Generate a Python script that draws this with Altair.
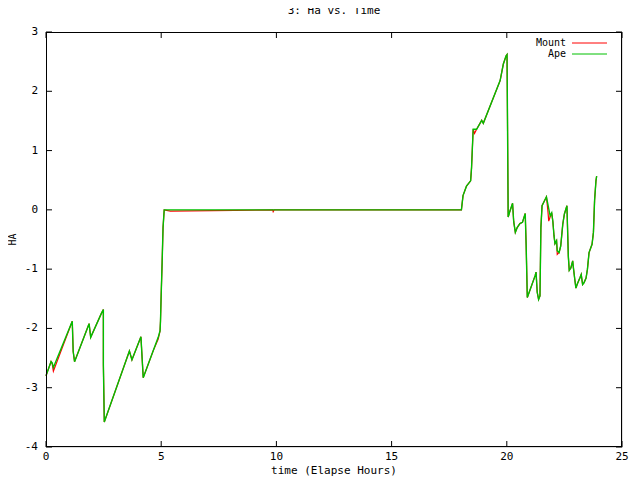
import altair as alt
import pandas as pd

# ---- data ----
ape_time = [0.0, 0.22, 0.27, 0.32, 1.14, 1.18, 1.24, 1.87, 1.94, 2.40, 2.49, 2.49, 2.53,
            3.62, 3.73, 4.12, 4.22, 4.66, 4.87, 4.95, 4.97, 5.00, 5.04, 5.08, 5.13,
            9.84, 9.86, 9.90, 18.03, 18.10, 18.25, 18.43, 18.47, 18.54, 18.69, 18.91, 18.98,
            19.71, 19.85, 19.97, 20.01, 20.06, 20.12, 20.25, 20.30, 20.37, 20.45, 20.57,
            20.68, 20.80, 20.84, 20.89, 21.23, 21.27, 21.32, 21.38, 21.44, 21.48, 21.53,
            21.63, 21.72, 21.78, 21.88, 21.95, 22.00, 22.05, 22.09, 22.16, 22.19, 22.27,
            22.34, 22.43, 22.50, 22.61, 22.67, 22.71, 22.78, 22.86, 22.88, 22.95, 23.00,
            23.06, 23.18, 23.23, 23.29, 23.35, 23.44, 23.50, 23.57, 23.70, 23.76, 23.81,
            23.87, 23.90]
ape_ha = [-2.80, -2.56, -2.58, -2.66, -1.88, -2.39, -2.56, -1.92, -2.15, -1.75, -1.68, -2.61, -3.58,
          -2.38, -2.53, -2.14, -2.83, -2.37, -2.15, -2.04, -1.87, -1.42, -0.89, -0.30, 0.0,
          0.0, 0.0, 0.0, 0.0, 0.24, 0.40, 0.49, 0.71, 1.36, 1.36, 1.51, 1.46,
          2.18, 2.46, 2.60, 2.62, -0.12, -0.04, 0.11, -0.20, -0.38, -0.30, -0.23,
          -0.21, -0.06, -0.60, -1.48, -1.11, -1.05, -1.39, -1.51, -1.45, -0.30, 0.07,
          0.15, 0.22, 0.10, -0.10, -0.05, -0.20, -0.44, -0.57, -0.52, -0.69, -0.72,
          -0.61, -0.24, -0.07, 0.07, -0.78, -1.02, -0.98, -0.86, -0.94, -1.17, -1.32,
          -1.25, -1.14, -1.09, -1.26, -1.23, -1.15, -1.00, -0.72, -0.58, -0.38, 0.16,
          0.49, 0.57]

mount_time = [0.0, 0.22, 0.27, 0.32, 1.14, 1.18, 1.24, 1.87, 1.94, 2.40, 2.49, 2.49, 2.53,
              3.62, 3.73, 4.12, 4.22, 4.66, 4.87, 4.95, 4.97, 5.00, 5.04, 5.08, 5.13, 5.40,
              9.84, 9.86, 9.90, 18.03, 18.10, 18.25, 18.43, 18.47, 18.54, 18.60, 18.69, 18.91, 18.98,
              19.71, 19.85, 19.97, 20.01, 20.06, 20.12, 20.25, 20.30, 20.37, 20.45, 20.57,
              20.68, 20.80, 20.84, 20.89, 21.23, 21.27, 21.32, 21.38, 21.44, 21.48, 21.53,
              21.63, 21.72, 21.78, 21.82, 21.88, 21.95, 22.00, 22.05, 22.09, 22.16, 22.19, 22.27,
              22.34, 22.43, 22.50, 22.61, 22.67, 22.71, 22.78, 22.86, 22.88, 22.95, 23.00,
              23.06, 23.18, 23.23, 23.29, 23.35, 23.44, 23.50, 23.57, 23.70, 23.76, 23.81,
              23.87, 23.90]
mount_ha = [-2.80, -2.56, -2.60, -2.72, -1.88, -2.39, -2.56, -1.92, -2.15, -1.75, -1.68, -2.61, -3.58,
            -2.38, -2.53, -2.14, -2.83, -2.37, -2.18, -2.04, -1.87, -1.42, -0.89, -0.30, 0.0, -0.02,
            0.0, -0.03, 0.0, 0.0, 0.24, 0.40, 0.49, 0.71, 1.36, 1.29, 1.36, 1.51, 1.46,
            2.18, 2.46, 2.60, 2.62, -0.12, -0.04, 0.11, -0.20, -0.38, -0.30, -0.23,
            -0.21, -0.06, -0.60, -1.48, -1.11, -1.05, -1.39, -1.51, -1.45, -0.30, 0.07,
            0.15, 0.22, 0.0, -0.19, -0.12, -0.05, -0.20, -0.44, -0.57, -0.52, -0.75, -0.72,
            -0.61, -0.24, -0.07, 0.07, -0.78, -1.02, -0.98, -0.86, -0.94, -1.17, -1.32,
            -1.25, -1.14, -1.09, -1.26, -1.23, -1.15, -1.00, -0.72, -0.58, -0.38, 0.16,
            0.49, 0.57]

series_names = ["Mount", "Ape"]
series_colors = ["#ff0000", "#00c000"]
x_ticks = [0, 5, 10, 15, 20, 25]
y_ticks = [-4, -3, -2, -1, 0, 1, 2, 3]

ape_df = pd.DataFrame({"time": ape_time, "ha": ape_ha, "i": list(range(len(ape_time))), "series": "Ape"})
mount_df = pd.DataFrame({"time": mount_time, "ha": mount_ha, "i": list(range(len(mount_time))), "series": "Mount"})

W, H = 576, 415
FONT = "DejaVu Sans Mono"

xs = alt.Scale(domain=[0, 25], nice=False, zero=False)
ys = alt.Scale(domain=[-4, 3], nice=False, zero=False)
color_scale = alt.Scale(domain=series_names, range=series_colors)


def line_layer(df, width):
    return alt.Chart(df).mark_line(strokeWidth=width).encode(
        x=alt.X("time:Q", scale=xs, axis=None),
        y=alt.Y("ha:Q", scale=ys, axis=None),
        color=alt.Color("series:N", scale=color_scale, legend=None),
        order="i:Q",
    )


mount_line = line_layer(mount_df, 1.2)
ape_line = line_layer(ape_df, 1.4)

# inward tick marks on all four sides
xt = pd.DataFrame({"v": x_ticks, "label": [str(v) for v in x_ticks]})
yt = pd.DataFrame({"v": y_ticks, "label": [str(v) for v in y_ticks]})
tick_bottom = alt.Chart(xt).mark_rule(color="black", strokeWidth=1).encode(
    x=alt.X("v:Q", scale=xs, axis=None), y=alt.value(H), y2=alt.value(H - 6))
tick_top = alt.Chart(xt).mark_rule(color="black", strokeWidth=1).encode(
    x=alt.X("v:Q", scale=xs, axis=None), y=alt.value(0), y2=alt.value(6))
tick_left = alt.Chart(yt).mark_rule(color="black", strokeWidth=1).encode(
    y=alt.Y("v:Q", scale=ys, axis=None), x=alt.value(0), x2=alt.value(6))
tick_right = alt.Chart(yt).mark_rule(color="black", strokeWidth=1).encode(
    y=alt.Y("v:Q", scale=ys, axis=None), x=alt.value(W - 6), x2=alt.value(W))

# plot border
frame = pd.DataFrame({"side": ["frame"]})
border_t = alt.Chart(frame).mark_rule(color="black", strokeWidth=1).encode(
    x=alt.value(0), x2=alt.value(W), y=alt.value(0.5))
border_b = alt.Chart(frame).mark_rule(color="black", strokeWidth=1).encode(
    x=alt.value(0), x2=alt.value(W), y=alt.value(H - 0.5))
border_l = alt.Chart(frame).mark_rule(color="black", strokeWidth=1).encode(
    x=alt.value(0.5), y=alt.value(0), y2=alt.value(H))
border_r = alt.Chart(frame).mark_rule(color="black", strokeWidth=1).encode(
    x=alt.value(W - 0.5), y=alt.value(0), y2=alt.value(H))

# tick labels and axis titles as text
x_labels = alt.Chart(xt).mark_text(font=FONT, fontSize=11, color="black",
                                   align="center", baseline="middle").encode(
    x=alt.X("v:Q", scale=xs, axis=None), y=alt.value(H + 10), text="label:N")
y_labels = alt.Chart(yt).mark_text(font=FONT, fontSize=11, color="black",
                                   align="right", baseline="middle").encode(
    y=alt.Y("v:Q", scale=ys, axis=None), x=alt.value(-8), text="label:N")
x_title = alt.Chart(pd.DataFrame({"t": ["time (Elapse Hours)"]})).mark_text(
    font=FONT, fontSize=11, color="black", align="center", baseline="middle").encode(
    x=alt.value(W / 2), y=alt.value(H + 24), text="t:N")
y_title = alt.Chart(pd.DataFrame({"t": ["HA"]})).mark_text(
    font=FONT, fontSize=10, color="black", align="center", baseline="middle", angle=270).encode(
    x=alt.value(-33), y=alt.value(H / 2), text="t:N")

# legend (top right, inside the plot)
legend_text_m = alt.Chart(pd.DataFrame({"series": ["Mount"]})).mark_text(
    align="right", baseline="middle", font=FONT, fontSize=10, color="black").encode(
    text="series:N", x=alt.value(520), y=alt.value(11))
legend_text_a = alt.Chart(pd.DataFrame({"series": ["Ape"]})).mark_text(
    align="right", baseline="middle", font=FONT, fontSize=10, color="black").encode(
    text="series:N", x=alt.value(520), y=alt.value(22))
legend_line_m = alt.Chart(pd.DataFrame({"series": ["Mount"]})).mark_rule(strokeWidth=1).encode(
    x=alt.value(526), x2=alt.value(561), y=alt.value(11),
    color=alt.Color("series:N", scale=color_scale, legend=None))
legend_line_a = alt.Chart(pd.DataFrame({"series": ["Ape"]})).mark_rule(strokeWidth=1).encode(
    x=alt.value(526), x2=alt.value(561), y=alt.value(22),
    color=alt.Color("series:N", scale=color_scale, legend=None))

chart = alt.layer(
    mount_line, ape_line,
    border_t, border_b, border_l, border_r,
    tick_bottom, tick_top, tick_left, tick_right,
    x_labels, y_labels, x_title, y_title,
    legend_text_m, legend_text_a, legend_line_m, legend_line_a,
).properties(
    width=W, height=H,
    title=alt.TitleParams("3: Ha vs. Time", font=FONT, fontSize=11, fontWeight="normal",
                          color="black", anchor="middle", offset=10),
    autosize=alt.AutoSizeParams(type="none"),
    padding={"left": 38, "top": 24, "right": 10, "bottom": 29},
).configure(background="white")

chart.save("out.html", embed_options={"renderer": "svg", "actions": False})
